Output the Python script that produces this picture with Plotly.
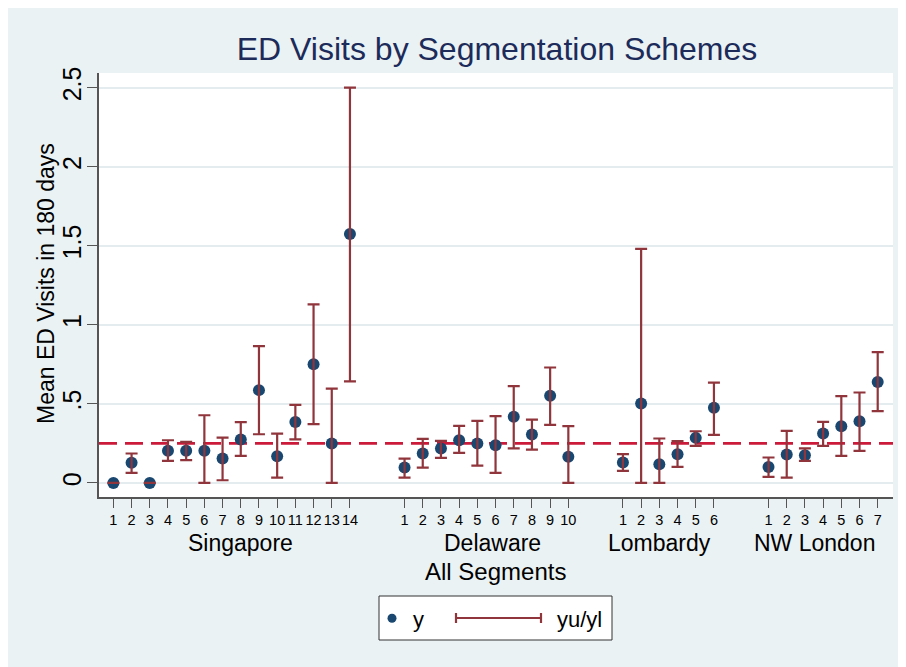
import plotly.graph_objects as go

# ---------------- data ----------------
groups = ["Singapore", "Delaware", "Lombardy", "NW London"]

sing_y  = [0.0, 0.127, 0.0, 0.203, 0.203, 0.203, 0.154, 0.275, 0.587, 0.169, 0.386, 0.751, 0.249, 1.574]
sing_hi = [0.0, 0.186, 0.0, 0.270, 0.260, 0.428, 0.287, 0.384, 0.865, 0.312, 0.494, 1.129, 0.597, 2.500]
sing_lo = [0.0, 0.063, 0.0, 0.139, 0.144, 0.000, 0.017, 0.171, 0.308, 0.034, 0.275, 0.372, 0.000, 0.642]

del_y  = [0.097, 0.186, 0.218, 0.270, 0.249, 0.239, 0.418, 0.306, 0.551, 0.165]
del_hi = [0.154, 0.279, 0.266, 0.361, 0.392, 0.422, 0.612, 0.401, 0.730, 0.359]
del_lo = [0.034, 0.097, 0.158, 0.190, 0.110, 0.063, 0.218, 0.211, 0.367, 0.000]

lom_y  = [0.129, 0.502, 0.118, 0.182, 0.285, 0.475]
lom_hi = [0.182, 1.481, 0.281, 0.264, 0.327, 0.635]
lom_lo = [0.076, 0.000, 0.000, 0.101, 0.234, 0.304]

nwl_y  = [0.101, 0.180, 0.175, 0.312, 0.359, 0.390, 0.639]
nwl_hi = [0.161, 0.329, 0.218, 0.386, 0.549, 0.572, 0.827]
nwl_lo = [0.038, 0.034, 0.139, 0.234, 0.171, 0.203, 0.454]

reference_value = 0.25
y_tick_vals = [0, 0.5, 1, 1.5, 2, 2.5]
y_tick_text = ["0", ".5", "1", "1.5", "2", "2.5"]

# ---------------- layout helpers ----------------
GAP = 3
series = [(sing_y, sing_hi, sing_lo), (del_y, del_hi, del_lo),
          (lom_y, lom_hi, lom_lo), (nwl_y, nwl_hi, nwl_lo)]

xs, ys, his, los, ticktext = [], [], [], [], []
group_centers = []
pos = 1
for (gy, ghi, glo) in series:
    start = pos
    for i, (v, h, l) in enumerate(zip(gy, ghi, glo)):
        xs.append(pos); ys.append(v); his.append(h); los.append(l)
        ticktext.append(str(i + 1))
        pos += 1
    group_centers.append((start + pos - 1) / 2)
    pos += GAP - 1

label_shift = [0.5, 0.35, -0.5, -0.5]
group_label_x = [c + s for c, s in zip(group_centers, label_shift)]

NAVY = "#1a476f"
MAROON = "#90353b"
BG = "#eaf2f3"

OFF = 8  # page offset of the figure inside the window
W, H = 906, 667
L, R, T, B = 99 - OFF, 893 - OFF, 73 - OFF, 497 - OFF
def px(x): return (x - OFF - L) / (R - L)   # x given in window pixels
def py(y): return (B - (y - OFF)) / (B - T)  # y given in window pixels

fig = go.Figure()

fig.add_trace(go.Scatter(
    x=xs, y=ys, mode="markers",
    marker=dict(color=NAVY, size=12, line=dict(width=0)),
    showlegend=False, hoverinfo="skip"))

fig.add_trace(go.Scatter(
    x=xs, y=ys, mode="markers",
    marker=dict(color="rgba(0,0,0,0)", size=1),
    error_y=dict(type="data", symmetric=False,
                 array=[h - v for h, v in zip(his, ys)],
                 arrayminus=[v - l for v, l in zip(ys, los)],
                 color=MAROON, thickness=2.2, width=6),
    showlegend=False, hoverinfo="skip"))

shapes = [
    dict(type="line", xref="paper", yref="y", x0=0, x1=1,
         y0=reference_value, y1=reference_value, layer="between",
         line=dict(color="#cc1a3a", width=2.6, dash="18px,8px")),
    # legend box
    dict(type="rect", xref="paper", yref="paper", x0=px(379), x1=px(612),
         y0=py(640), y1=py(596), fillcolor="white",
         line=dict(color="#333333", width=1)),
    dict(type="circle", xref="paper", yref="paper", x0=px(387.5), x1=px(396.5),
         y0=py(622.8), y1=py(613.8), fillcolor=NAVY, line=dict(width=0)),
    dict(type="line", xref="paper", yref="paper", x0=px(456), x1=px(541),
         y0=py(618), y1=py(618), line=dict(color=MAROON, width=2.2)),
    dict(type="line", xref="paper", yref="paper", x0=px(456), x1=px(456),
         y0=py(613), y1=py(623), line=dict(color=MAROON, width=2.2)),
    dict(type="line", xref="paper", yref="paper", x0=px(541), x1=px(541),
         y0=py(613), y1=py(623), line=dict(color=MAROON, width=2.2)),
]

FONT = "Liberation Sans, Arial, sans-serif"
annotations = []
for g, gx in zip(groups, group_label_x):
    annotations.append(dict(x=gx, xref="x", y=py(543), yref="paper", text=g,
                            showarrow=False, xanchor="center", yanchor="middle",
                            font=dict(size=23, color="black", family=FONT)))
annotations += [
    dict(x=px(495), y=py(571), xref="paper", yref="paper", text="All Segments",
         showarrow=False, xanchor="center", yanchor="middle",
         font=dict(size=24, color="black", family=FONT)),
    dict(x=px(46), y=py(284), xref="paper", yref="paper", text="Mean ED Visits in 180 days",
         showarrow=False, xanchor="center", yanchor="middle", textangle=-90,
         font=dict(size=23, color="black", family=FONT)),
    dict(x=px(411), y=py(619), xref="paper", yref="paper", text="y",
         showarrow=False, xanchor="left", yanchor="middle",
         font=dict(size=22, color="black", family=FONT)),
    dict(x=px(555), y=py(619), xref="paper", yref="paper", text="yu/yl",
         showarrow=False, xanchor="left", yanchor="middle",
         font=dict(size=22, color="black", family=FONT)),
]

fig.update_layout(
    width=W, height=H,
    margin=dict(l=L, r=W - R, t=T, b=H - B, pad=0, autoexpand=False),
    paper_bgcolor=BG, plot_bgcolor="white",
    showlegend=False,
    title=dict(text="ED Visits by Segmentation Schemes", x=px(497), xref="paper",
               xanchor="center", y=1 - (49 - OFF) / H, yref="container", yanchor="middle",
               font=dict(size=32, color="#1c2b5a", family=FONT)),
    shapes=shapes, annotations=annotations,
    xaxis=dict(range=[0.21, 43.84], tickvals=xs, ticktext=ticktext,
               showgrid=False, zeroline=False, showline=True, automargin=False,
               linecolor="#555555", linewidth=1.5, tickangle=0,
               ticks="outside", ticklen=9, tickwidth=1.3, tickcolor="#555555",
               tickfont=dict(size=14.5, color="black", family=FONT)),
    yaxis=dict(range=[-0.089, 2.593], tickvals=y_tick_vals, ticktext=y_tick_text,
               showgrid=True, gridcolor="#e4ecef", gridwidth=1.5,
               zeroline=False, showline=True, automargin=False,
               linecolor="#555555", linewidth=1.5,
               ticks="outside", ticklen=10, tickwidth=1.3, tickcolor="#555555",
               tickangle=-90, ticklabelstandoff=-4,
               tickfont=dict(size=25, color="black", family=FONT)),
)

fig.write_html("out.html")
